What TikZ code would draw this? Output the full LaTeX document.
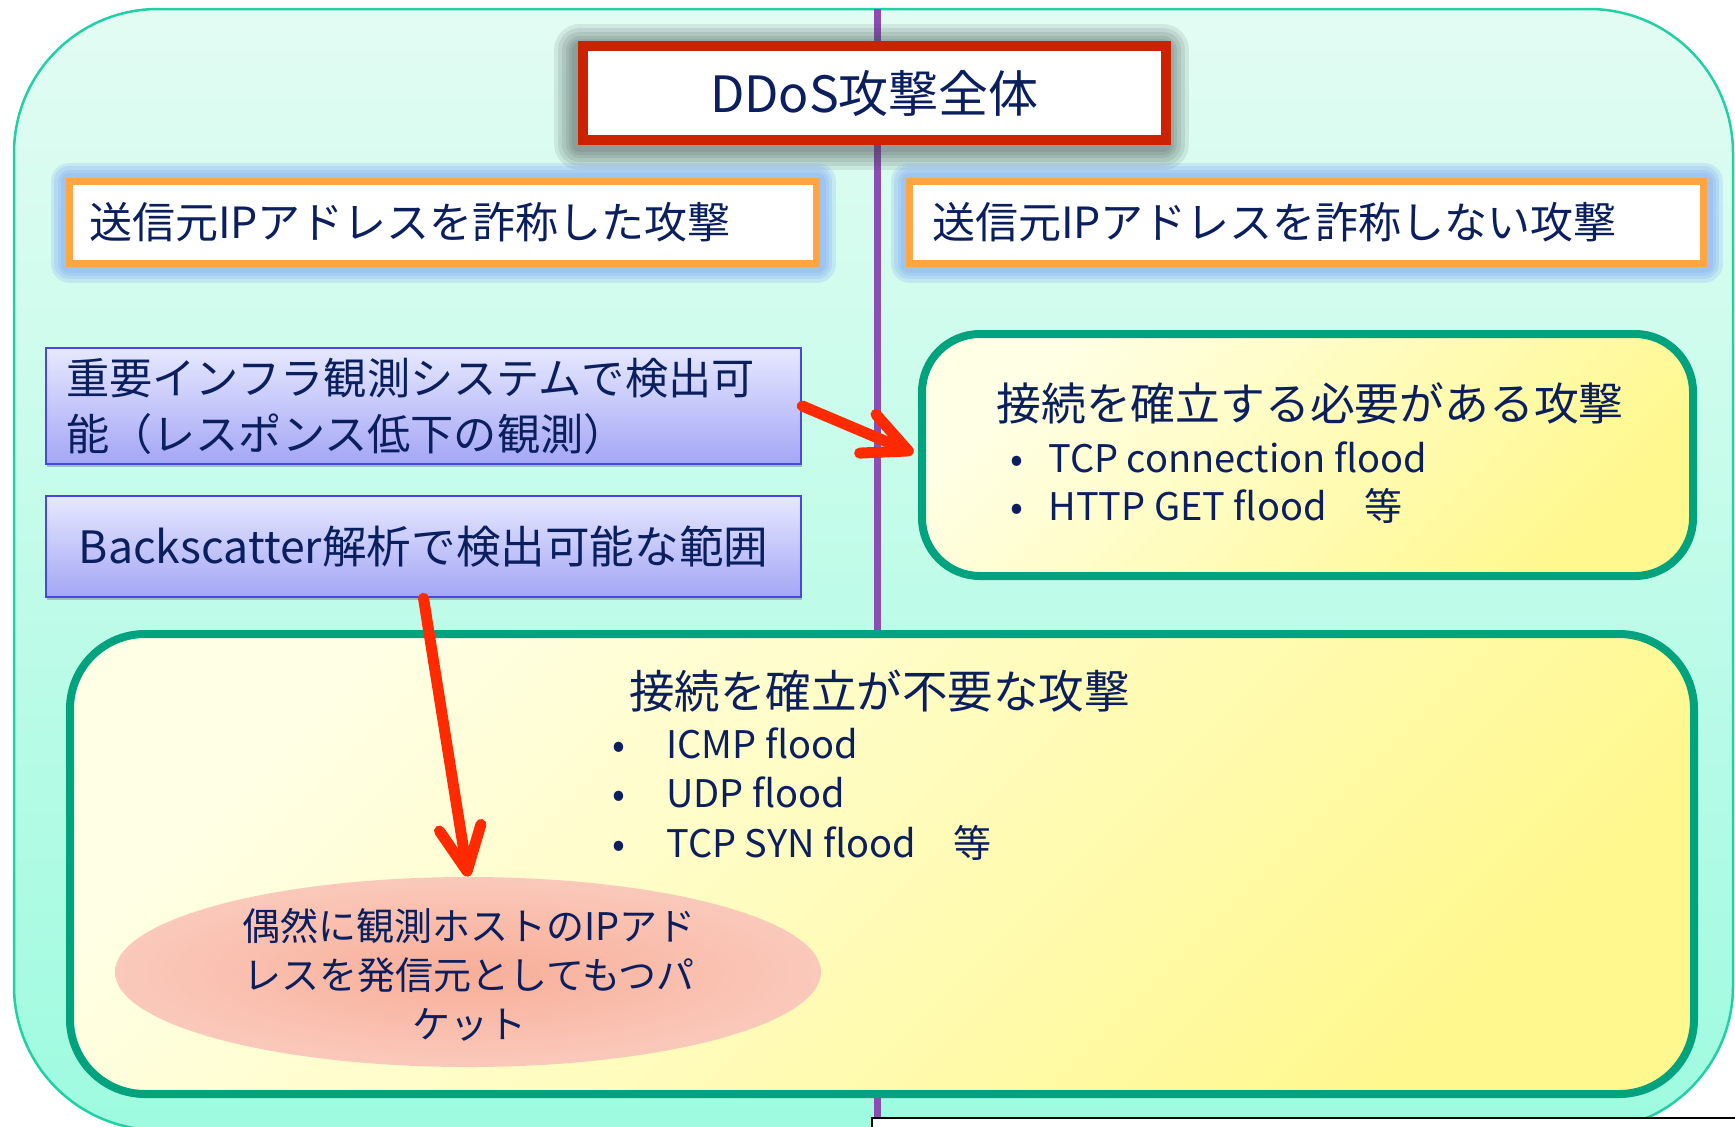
\documentclass[tikz,border=0pt]{standalone}
\usepackage{fontspec}
\setmainfont{Noto Sans CJK JP}
\usetikzlibrary{shapes.geometric,arrows.meta}
\definecolor{navy}{HTML}{0B1F5E}
\definecolor{mintTop}{HTML}{E3FCF3}
\definecolor{mintBot}{HTML}{9EFBDF}
\definecolor{framec}{HTML}{22D0A6}
\definecolor{purplec}{HTML}{8A4DB4}
\definecolor{redb}{HTML}{CC2200}
\definecolor{shadowc}{HTML}{3A4A46}
\definecolor{orangeb}{HTML}{FFA640}
\definecolor{glowb}{HTML}{7FA6F5}
\definecolor{blueb}{HTML}{4848DE}
\definecolor{bluetop}{HTML}{E6E8FF}
\definecolor{bluebot}{HTML}{A4A6F6}
\definecolor{greenb}{HTML}{00A37E}
\definecolor{ylight}{HTML}{FFFFE6}
\definecolor{ydark}{HTML}{FFF88E}
\definecolor{arrowred}{HTML}{FF2A00}
\definecolor{ellin}{HTML}{F8AE98}
\definecolor{ellout}{HTML}{FDE4DE}
\pgfdeclareradialshading{ellshade}{\pgfpoint{0bp}{0bp}}{color(0bp)=(ellin); color(50bp)=(ellout)}
\newcommand{\mybul}[1]{\llap{\makebox[0pt][c]{•}\hspace{#1}}}
\newcommand{\myfs}[2]{\fontsize{#1}{#2}\selectfont}
\begin{document}
\begin{tikzpicture}[x=0.5pt,y=-0.5pt,
  jtext/.style={text=navy, inner sep=0pt},
  outerframe/.style={rectangle, draw=framec, line width=1.25pt, top color=mintTop, bottom color=mintBot, rounded corners=72pt, inner sep=0pt},
  vline/.style={draw=purplec, line width=3.5pt},
  sh/.style={preaction={draw=shadowc, line width=#1, opacity=.11, line join=round, transform canvas={xshift=-1.5pt,yshift=-2pt}}},
  gl/.style={preaction={draw=glowb, line width=#1, opacity=.22, line join=round}},
  titlebox/.style={rectangle, draw=redb, line width=5.25pt, fill=white, inner sep=0pt, text=navy,
    sh=26pt, sh=22pt, sh=18pt, sh=14pt, sh=11pt, sh=8pt,
    font=\myfs{25pt}{30pt}},
  orangebox/.style={rectangle, draw=orangeb, line width=3.5pt, fill=white, inner ysep=0pt, align=left, text=navy,
    gl=19pt, gl=15.5pt, gl=12pt, gl=9pt,
    minimum height=41pt, font=\myfs{21.5pt}{26pt}},
  bluebox/.style={rectangle, draw=blueb, line width=1.25pt, top color=bluetop, bottom color=bluebot, inner ysep=0pt, text=navy,
    preaction={fill=black, opacity=.22, transform canvas={xshift=0.5pt,yshift=-1.5pt}},
    minimum width=377.5pt, font=\myfs{21.6pt}{28pt}},
  greenbox/.style={rectangle, draw=greenb, line width=4pt, inner sep=0pt, left color=ylight, right color=ydark, shading angle=45},
  redarrow/.style={draw=arrowred, line width=5.5pt, line cap=round, -{Straight Barb[length=22pt,width=21pt,round]}}
]
\useasboundingbox (0,0) rectangle (1735,1126);
\fill[white] (0,0) rectangle (1735,1126);

% outer frame and divider
\node[outerframe, minimum width=859.5pt, minimum height=560.5pt] (frame) at (873.5,569.5) {};
\coordinate (vtop) at (877,9);
\coordinate (vbot) at (877,1126);
\draw[vline] (vtop) -- (vbot);

% title
\node[titlebox, minimum width=291.5pt, minimum height=47pt] (title) at (874.5,93) {DDoS攻撃全体};

% orange headers
\node[orangebox, minimum width=373.5pt, inner xsep=9.75pt, text width=354pt] (spoof) at (443,222.5) {送信元IPアドレスを詐称した攻撃};
\node[orangebox, minimum width=397pt, inner xsep=11.25pt, text width=374.5pt] (nospoof) at (1306.5,222.5) {送信元IPアドレスを詐称しない攻撃};

% blue boxes
\node[bluebox, minimum height=58pt, inner xsep=10pt, text width=357.5pt, align=left] (infra) at (423.5,406) {重要インフラ観測システムで検出可\\能（レスポンス低下の観測）};
\node[bluebox, minimum height=50.5pt, inner xsep=0pt, align=center, font=\myfs{22.3pt}{28pt}] (backs) at (423.5,546.5) {Backscatter解析で検出可能な範囲};

% yellow boxes
\node[greenbox, rounded corners=29pt, minimum width=385.5pt, minimum height=121pt] (conn) at (1307.5,455) {};
\node[greenbox, rounded corners=37.5pt, minimum width=812pt, minimum height=230pt] (noconn) at (882,864) {};

\node[jtext, anchor=west, font=\myfs{22.4pt}{27pt}] (conntitle) at (996,403) {接続を確立する必要がある攻撃};
\node[jtext, anchor=base west, font=\myfs{19pt}{24pt}] (connb1) at (1048,472) {\mybul{15.5pt}TCP connection flood};
\node[jtext, anchor=base west, font=\myfs{19pt}{24pt}] (connb2) at (1048,520) {\mybul{15.5pt}HTTP GET flood　等};

\node[jtext, font=\myfs{22.75pt}{27pt}] (noconntitle) at (879.5,691) {接続を確立が不要な攻撃};
\node[jtext, anchor=base west, font=\myfs{19pt}{24pt}] (nb1) at (666,758) {\mybul{23.5pt}ICMP flood};
\node[jtext, anchor=base west, font=\myfs{19pt}{24pt}] (nb2) at (666,807) {\mybul{23.5pt}UDP flood};
\node[jtext, anchor=base west, font=\myfs{19pt}{24pt}] (nb3) at (666,857) {\mybul{23.5pt}TCP SYN flood　等};

% ellipse
\node[ellipse, minimum width=353pt, minimum height=95pt, inner sep=0pt, shade, shading=ellshade] (ell) at (468,972) {};
\node[jtext, align=center, font=\myfs{19pt}{24.5pt}] (elltext) at (469,975) {偶然に観測ホストのIPアド\\レスを発信元としてもつパ\\ケット};

% arrows
\draw[redarrow, shorten >=2.5pt] (infra.east) -- (conn.west);
\draw[redarrow] (backs.south) -- (ell.north);

% cropped element at bottom right
\node[rectangle, draw=black, line width=1pt, fill=white, inner sep=0pt, anchor=north west, minimum width=437pt, minimum height=15pt] (patch) at (871,1117) {};
\end{tikzpicture}
\end{document}
